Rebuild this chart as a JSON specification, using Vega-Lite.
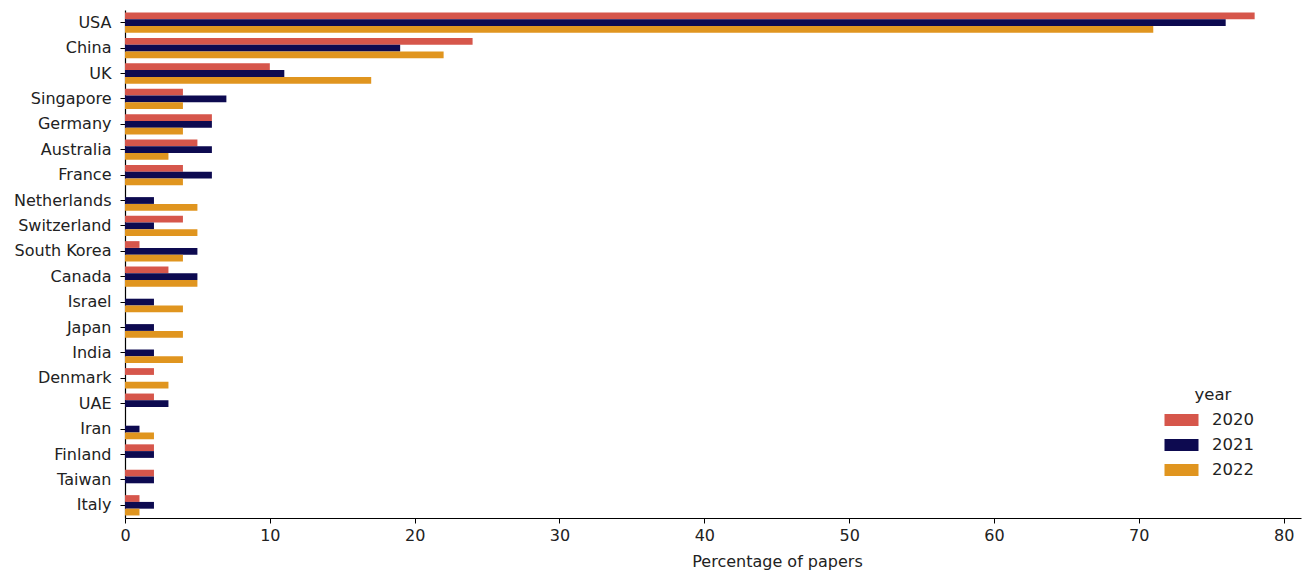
{
  "$schema": "https://vega.github.io/schema/vega-lite/v6.json",
  "width": 1176,
  "height": 508,
  "autosize": {"type": "none"},
  "padding": {"left": 125, "top": 10, "right": 3, "bottom": 52},
  "background": "white",
  "config": {
    "view": {"stroke": null},
    "font": "DejaVu Sans",
    "axis": {"grid": false, "domainColor": "#000", "tickColor": "#000", "labelColor": "#222", "titleColor": "#222", "labelFont": "DejaVu Sans", "titleFont": "DejaVu Sans", "labelFontSize": 16, "titleFontSize": 16, "titleFontWeight": "normal", "tickSize": 5, "domainWidth": 1.2, "labelFlush": false}
  },
  "data": {
    "values": [
      {"country": "USA", "year": "2020", "pct": 78}, {"country": "USA", "year": "2021", "pct": 76}, {"country": "USA", "year": "2022", "pct": 71},
      {"country": "China", "year": "2020", "pct": 24}, {"country": "China", "year": "2021", "pct": 19}, {"country": "China", "year": "2022", "pct": 22},
      {"country": "UK", "year": "2020", "pct": 10}, {"country": "UK", "year": "2021", "pct": 11}, {"country": "UK", "year": "2022", "pct": 17},
      {"country": "Singapore", "year": "2020", "pct": 4}, {"country": "Singapore", "year": "2021", "pct": 7}, {"country": "Singapore", "year": "2022", "pct": 4},
      {"country": "Germany", "year": "2020", "pct": 6}, {"country": "Germany", "year": "2021", "pct": 6}, {"country": "Germany", "year": "2022", "pct": 4},
      {"country": "Australia", "year": "2020", "pct": 5}, {"country": "Australia", "year": "2021", "pct": 6}, {"country": "Australia", "year": "2022", "pct": 3},
      {"country": "France", "year": "2020", "pct": 4}, {"country": "France", "year": "2021", "pct": 6}, {"country": "France", "year": "2022", "pct": 4},
      {"country": "Netherlands", "year": "2020", "pct": 0}, {"country": "Netherlands", "year": "2021", "pct": 2}, {"country": "Netherlands", "year": "2022", "pct": 5},
      {"country": "Switzerland", "year": "2020", "pct": 4}, {"country": "Switzerland", "year": "2021", "pct": 2}, {"country": "Switzerland", "year": "2022", "pct": 5},
      {"country": "South Korea", "year": "2020", "pct": 1}, {"country": "South Korea", "year": "2021", "pct": 5}, {"country": "South Korea", "year": "2022", "pct": 4},
      {"country": "Canada", "year": "2020", "pct": 3}, {"country": "Canada", "year": "2021", "pct": 5}, {"country": "Canada", "year": "2022", "pct": 5},
      {"country": "Israel", "year": "2020", "pct": 0}, {"country": "Israel", "year": "2021", "pct": 2}, {"country": "Israel", "year": "2022", "pct": 4},
      {"country": "Japan", "year": "2020", "pct": 0}, {"country": "Japan", "year": "2021", "pct": 2}, {"country": "Japan", "year": "2022", "pct": 4},
      {"country": "India", "year": "2020", "pct": 0}, {"country": "India", "year": "2021", "pct": 2}, {"country": "India", "year": "2022", "pct": 4},
      {"country": "Denmark", "year": "2020", "pct": 2}, {"country": "Denmark", "year": "2021", "pct": 0}, {"country": "Denmark", "year": "2022", "pct": 3},
      {"country": "UAE", "year": "2020", "pct": 2}, {"country": "UAE", "year": "2021", "pct": 3}, {"country": "UAE", "year": "2022", "pct": 0},
      {"country": "Iran", "year": "2020", "pct": 0}, {"country": "Iran", "year": "2021", "pct": 1}, {"country": "Iran", "year": "2022", "pct": 2},
      {"country": "Finland", "year": "2020", "pct": 2}, {"country": "Finland", "year": "2021", "pct": 2}, {"country": "Finland", "year": "2022", "pct": 0},
      {"country": "Taiwan", "year": "2020", "pct": 2}, {"country": "Taiwan", "year": "2021", "pct": 2}, {"country": "Taiwan", "year": "2022", "pct": 0},
      {"country": "Italy", "year": "2020", "pct": 1}, {"country": "Italy", "year": "2021", "pct": 2}, {"country": "Italy", "year": "2022", "pct": 1}
    ]
  },
  "mark": {"type": "bar", "cornerRadius": 0},
  "encoding": {
    "y": {
      "field": "country", "type": "nominal", "sort": null,
      "scale": {"paddingInner": 0.2, "paddingOuter": 0.1},
      "axis": {"title": null, "labelPadding": 9}
    },
    "yOffset": {"field": "year", "type": "nominal", "scale": {"paddingInner": 0, "paddingOuter": 0}},
    "x": {
      "field": "pct", "type": "quantitative",
      "scale": {"domain": [0, 81.2], "nice": false, "zero": true},
      "axis": {"title": "Percentage of papers", "values": [0, 10, 20, 30, 40, 50, 60, 70, 80], "labelPadding": 4, "titlePadding": 10, "titleX": 652, "titleAnchor": "start", "titleAlign": "center"}
    },
    "color": {
      "field": "year", "type": "nominal",
      "scale": {"domain": ["2020", "2021", "2022"], "range": ["#d6564b", "#0d0a50", "#e0951f"]},
      "legend": {
        "title": "year", "orient": "none", "legendX": 1048, "legendY": 377,
        "symbolType": "M-2,-0.7H2V0.7H-2Z", "symbolSize": 289, "symbolStrokeWidth": 0,
        "labelOffset": 22, "rowPadding": 8, "labelFontSize": 16.5, "titleFontSize": 16.5,
        "titleFontWeight": "normal", "titleFont": "DejaVu Sans", "labelFont": "DejaVu Sans",
        "labelColor": "#222", "titleColor": "#222", "titleAnchor": "middle", "titlePadding": 8
      }
    }
  }
}
